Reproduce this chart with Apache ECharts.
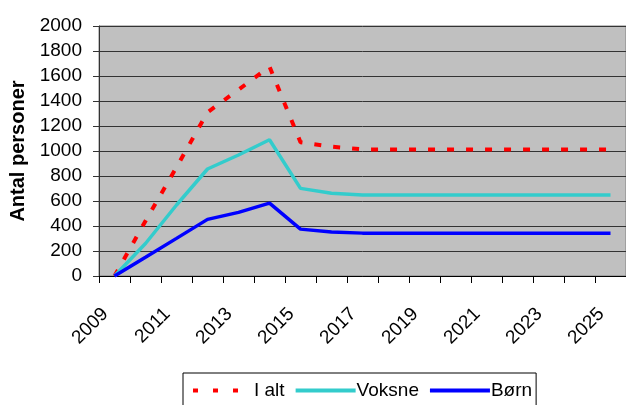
<!DOCTYPE html>
<html>
<head>
<meta charset="utf-8">
<script src="https://cdn.jsdelivr.net/npm/echarts@6/dist/echarts.min.js"></script>
<style>
  html, body { margin: 0; padding: 0; background: #fff; }
  #chart { width: 626px; height: 405px; }
</style>
</head>
<body>
<div id="chart"></div>
<script>
  // årstal og værdier
  var years = ['2009', '2010', '2011', '2012', '2013', '2014', '2015', '2016', '2017',
    '2018', '2019', '2020', '2021', '2022', '2023', '2024', '2025'];
  var iAlt = [0, 440, 870, 1310, 1490, 1675, 1070, 1035, 1013,
    1013, 1013, 1013, 1013, 1013, 1013, 1013, 1013];
  var voksne = [0, 260, 568, 856, 968, 1090, 701, 662, 648,
    648, 648, 648, 648, 648, 648, 648, 648];
  var boern = [0, 150, 301, 453, 509, 583, 375, 352, 343,
    343, 343, 343, 343, 343, 343, 343, 343];

  var myChart = echarts.init(document.getElementById('chart'));
  var font = 'Liberation Sans, Arial, sans-serif';

  var option = {
    animation: false,
    textStyle: { fontFamily: font, color: '#000' },
    grid: {
      left: 99,
      top: 26,
      bottom: 129,
      width: 532,
      show: true,
      backgroundColor: '#c0c0c0',
      borderColor: '#808080',
      borderWidth: 1
    },
    legend: {
      data: [
        { name: 'I alt', lineStyle: { width: 4, type: [5, 15] } },
        { name: 'Voksne', lineStyle: { width: 4 } },
        { name: 'Børn', lineStyle: { width: 4 } }
      ],
      left: 183,
      top: 373,
      padding: [8, 4, 12, 8],
      itemWidth: 60,
      itemHeight: 10,
      itemGap: 9,
      borderColor: '#000',
      borderWidth: 1,
      // skjul prikken midt på linjen i forklaringen
      itemStyle: { opacity: 0 },
      textStyle: { fontSize: 19, color: '#000', padding: [0, 0, 0, -4] }
    },
    xAxis: {
      type: 'category',
      data: years,
      boundaryGap: true,
      axisLine: { lineStyle: { color: '#000', width: 1 } },
      axisTick: { show: true, interval: 0, length: 7, lineStyle: { color: '#000' } },
      axisLabel: {
        interval: 1,
        rotate: 45,
        margin: 26,
        fontSize: 19,
        color: '#000',
        padding: [0, 13, 0, 0]
      },
      splitLine: { show: false }
    },
    yAxis: {
      type: 'value',
      min: 0,
      max: 2000,
      interval: 200,
      name: 'Antal personer',
      nameLocation: 'middle',
      nameGap: 69,
      nameTextStyle: { fontSize: 20, fontWeight: 'bold', color: '#000' },
      axisLine: { show: true, lineStyle: { color: '#333', width: 1 } },
      axisTick: { show: true, length: 6, lineStyle: { color: '#333' } },
      axisLabel: {
        fontSize: 19,
        color: '#000',
        margin: 17,
        formatter: function (v) { return String(v); }
      },
      splitLine: { lineStyle: { color: '#333', width: 1 } }
    },
    series: [
      {
        name: 'I alt',
        type: 'line',
        data: iAlt,
        symbol: 'none',
        itemStyle: { color: '#ff0000' },
        lineStyle: { color: '#ff0000', width: 4, type: [7, 12] }
      },
      {
        name: 'Voksne',
        type: 'line',
        data: voksne,
        symbol: 'none',
        itemStyle: { color: '#33cccc' },
        lineStyle: { color: '#33cccc', width: 3.5 }
      },
      {
        name: 'Børn',
        type: 'line',
        data: boern,
        symbol: 'none',
        itemStyle: { color: '#0000ff' },
        lineStyle: { color: '#0000ff', width: 3.5 }
      }
    ]
  };
  myChart.setOption(option);
</script>
</body>
</html>
